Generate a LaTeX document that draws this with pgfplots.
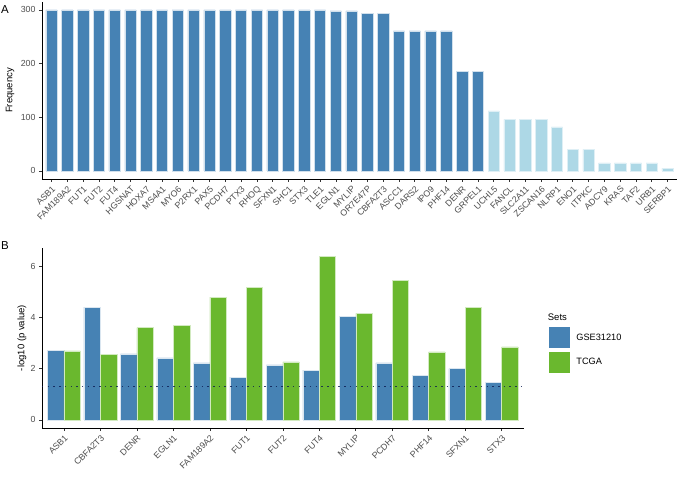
\documentclass[border=0pt]{standalone}
\usepackage{fontspec}
\setmainfont{Liberation Sans}
\usepackage{pgfplots}
\pgfplotsset{compat=1.18}
\definecolor{dblue}{HTML}{4682B4}
\definecolor{lblue}{HTML}{ADD8E6}
\definecolor{tgreen}{HTML}{6AB82E}
\definecolor{tickgray}{HTML}{4D4D4D}
\definecolor{hline}{HTML}{0A1A50}
\pgfplotsset{
  common/.style={
    scale only axis,
    axis x line*=bottom, axis y line*=left,
    axis line style={black, line width=0.8pt, -},
    tick align=outside,
    major tick length=3pt,
    tick style={color=black!80, line width=0.6pt},
    tick label style={font=\fontsize{8.8}{10}\selectfont, color=tickgray},
    /pgf/number format/assume math mode=true,
    label style={font=\fontsize{9.5}{11}\selectfont},
    xticklabel style={rotate=45, anchor=north east, inner sep=2.2pt},
    clip=false,
  }
}

\begin{document}
\begin{tikzpicture}
\path[use as bounding box] (0pt,0pt) rectangle (677pt,477pt);
\node[font=\fontsize{11.5}{13}\selectfont] at (5pt,467pt) {A};
\node[font=\fontsize{11.5}{13}\selectfont] at (5pt,231pt) {B};

\begin{axis}[common, at={(42pt,298pt)}, anchor=south west,
  width=635pt, height=177.2pt,
  xmin=-0.6, xmax=39.6, ymin=-15, ymax=315,
  ytick={0,100,200,300},
  xtick={0,...,39},
  xticklabels={ASB1,FAM189A2,FUT1,FUT2,FUT4,HGSNAT,HOXA7,MS4A1,MYO6,P2RX1,PAX5,PCDH7,PTX3,RHOQ,SFXN1,SHC1,STX3,TLE1,EGLN1,MYLIP,OR7E47P,CBFA2T3,ASCC1,DARS2,IPO9,PHF14,DENR,GRPEL1,UCHL5,FANCL,SLC2A11,ZSCAN16,NLRP1,ENO1,ITPKC,ADCY9,KRAS,TAF2,URB1,SERBP1},
  ylabel={Frequency},
  ylabel style={at={(axis description cs:-0.0504,0.5)}, anchor=center},
  ybar, bar width=0.72, bar shift=0pt]
\addplot[fill=dblue, draw=white!75!dblue, line width=0.5pt] table {
x y
0 300
1 300
2 300
3 300
4 300
5 300
6 300
7 300
8 300
9 300
10 300
11 300
12 300
13 300
14 300
15 300
16 300
17 300
18 298
19 298
20 294
21 293
22 261
23 261
24 261
25 261
26 185
27 185
};
\addplot[fill=lblue, draw=white!60!lblue, line width=0.5pt] table {
x y
28 112
29 96
30 96
31 96
32 82
33 40
34 40
35 15
36 15
37 15
38 15
39 5
};
\end{axis}

\begin{axis}[common, at={(42pt,49pt)}, anchor=south west,
  width=481.6pt, height=180pt,
  xmin=-0.6, xmax=12.6, ymin=-0.32, ymax=6.72,
  ytick={0,2,4,6},
  xtick={0,...,12},
  xticklabels={ASB1,CBFA2T3,DENR,EGLN1,FAM189A2,FUT1,FUT2,FUT4,MYLIP,PCDH7,PHF14,SFXN1,STX3},
  ylabel={-log10 (p value)},
  ylabel style={at={(axis description cs:-0.0415,0.5)}, anchor=center},
  ybar, bar width=0.45,
  legend image code/.code={\draw[#1, draw=white] (0pt,-11.1pt) rectangle (22.3pt,11.1pt);},
  legend style={at={(axis description cs:1.050,0.5667)}, anchor=north west,
    draw=none, fill=none, inner sep=0pt, row sep=2.2pt,
    font=\fontsize{9.2}{11}\selectfont,
    nodes={inner sep=0pt},
    /tikz/every odd column/.append style={column sep=5.7pt}},
  legend cell align=left]
\addplot[fill=dblue, draw=white!80!dblue, line width=0.5pt, bar shift=-0.225] table {
x y
0 2.71
1 4.41
2 2.58
3 2.42
4 2.23
5 1.67
6 2.15
7 1.94
8 4.04
9 2.23
10 1.73
11 2.00
12 1.46
};
\addlegendentry{GSE31210}
\addplot[fill=tgreen, draw=white!70!tgreen, line width=0.5pt, bar shift=0.225] table {
x y
0 2.70
1 2.55
2 3.61
3 3.68
4 4.80
5 5.18
6 2.27
7 6.39
8 4.16
9 5.44
10 2.66
11 4.40
12 2.85
};
\addlegendentry{TCGA}
\addplot[sharp plot, forget plot, color=hline, opacity=0.8, line width=1.5pt, dash pattern=on 1.5pt off 4.2pt] coordinates {(-0.6,1.301) (12.6,1.301)};
\node[anchor=west, inner sep=0pt, font=\fontsize{9.5}{11}\selectfont] at (axis description cs:1.050,0.615) {Sets};
\end{axis}
\end{tikzpicture}
\end{document}
